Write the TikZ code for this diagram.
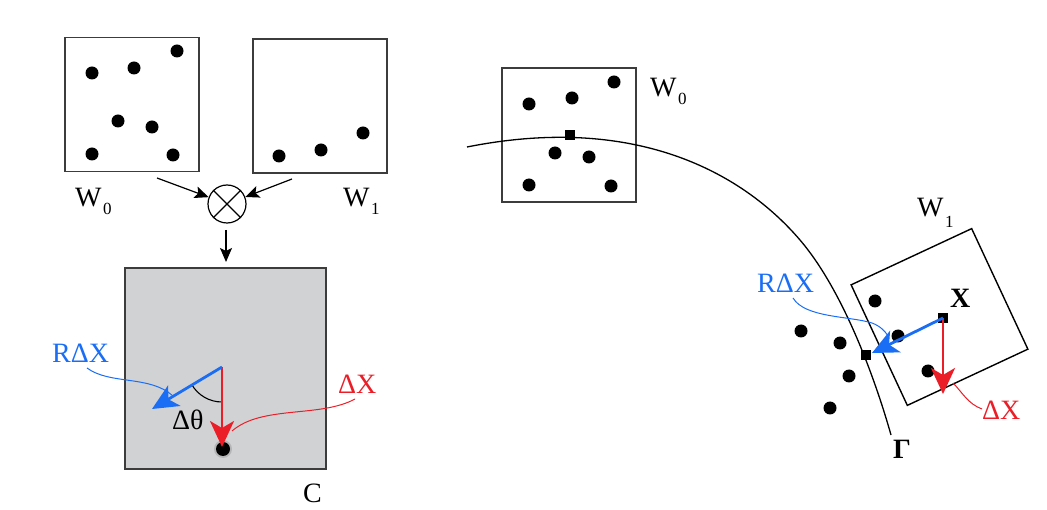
\documentclass[tikz,border=0pt]{standalone}
\usepackage{fontspec}
\setmainfont{Liberation Serif}
\usetikzlibrary{arrows.meta}
\definecolor{myblue}{RGB}{25,110,245}
\definecolor{myred}{RGB}{235,30,40}
\definecolor{cgray}{RGB}{209,210,212}
\definecolor{edge}{RGB}{60,60,60}
\tikzset{
  box/.style={draw=edge, line width=1.6pt, inner sep=0pt, minimum width=134pt, minimum height=134pt},
  lab/.style={font=\fontsize{28}{30}\selectfont, inner sep=0pt, anchor=base west},
  sub/.style={font=\fontsize{17}{18}\selectfont, inner sep=0pt, anchor=base west},
  arr/.style={line width=1.2pt, -{Stealth[length=14pt,width=12pt,inset=3pt]}},
  bigarrow/.style={line width=2.8pt, -{Stealth[length=26pt,width=24pt,inset=7pt]}},
  callout/.style={line width=1pt},
  sq/.style={fill=black, minimum size=10pt, inner sep=0pt},
}
\begin{document}
\begin{tikzpicture}[x=1pt,y=-1pt]
\useasboundingbox (0,0) rectangle (1047,510);
% ---------- left part ----------
\node[box] (LW0) at (132,104.5) {};
\node[box] (LW1) at (320,106) {};
\foreach \p in {(92,73),(134,68),(177,51),(118,121),(152,127),(92,154),(173,155)}
  \fill \p circle (6.5pt);
\foreach \p in {(279,156),(321,150),(363,133)}
  \fill \p circle (6.5pt);
\node[lab] (tW0) at (75,207) {W};
\node[sub] at (103,215) {0};
\node[lab] (tW1) at (343,207) {W};
\node[sub] at (371,215) {1};
% otimes
\node[draw, circle, line width=1.2pt, minimum size=38pt, inner sep=0pt] (ot) at (227,204) {};
\draw[line width=1.2pt] (ot.45) -- (ot.225) (ot.135) -- (ot.315);
\coordinate (s0) at (157,178);
\coordinate (s1) at (292,179);
\draw[arr] (s0) -- (ot);
\draw[arr] (s1) -- (ot);
% C box
\node[box, fill=cgray, minimum width=201pt, minimum height=201pt] (C) at (225.5,368.5) {};
\coordinate (d0) at (226,230);
\coordinate (d1) at (226,262);
\draw[arr] (d0) -- (d1);
\node[lab] (tC) at (303,502) {C};
\coordinate (o) at (222,367);
\coordinate (tipR) at (222,447);
\coordinate (tipB) at (152,409);
\fill[black!40, opacity=0.5] (223,449) circle (9pt);
\fill[black] (223,449) circle (7pt);
\draw[line width=1.1pt] (o) ++(210:35pt) arc[start angle=210, end angle=270, radius=35pt];
\draw[bigarrow, myred] (o) -- (tipR);
\draw[bigarrow, myblue] (o) -- (tipB);
\node[lab] (tdt) at (172,429) {Δθ};
\node[lab, text=myblue] (tRDX) at (52,363) {RΔX};
\node[lab, text=myred] (tDX) at (338,394) {ΔX};
\draw[callout, myblue] (87,368) .. controls (110,385) and (150,375) .. (173,396);
\draw[callout, myred] (355,399) .. controls (320,418) and (262,405) .. (232,431);
% ---------- right part ----------
\node[box, line width=1.4pt] (RW0) at (569,135) {};
\foreach \p in {(529,104),(572,98),(614,82),(555,153),(589,157),(529,185),(611,186)}
  \fill \p circle (6.5pt);
\node[lab] (tRW0) at (650,97) {W};
\node[sub] at (678,105) {0};
\node[box, draw=black, line width=1.4pt, minimum width=133pt, minimum height=133pt, rotate=25] (RW1) at (939.5,317) {};
\foreach \p in {(875,301),(801,331),(840,343),(898,336),(849,376),(928,371),(830,408)}
  \fill \p circle (6.5pt);
\draw[line width=1.3pt] (467,147) .. controls (634,113.7) and (741.5,171.6) .. (800,240)
  .. controls (845.5,293.2) and (877.5,387) .. (891,435);
\node[lab] (tRW1) at (917,217) {W};
\node[sub] at (945,228) {1};
\node[sq] (m0) at (570,135) {};
\node[sq] (mX) at (943,318) {};
\node[sq] (m1) at (866,355) {};
\coordinate (tipB2) at (872,353);
\coordinate (tipR2) at (943,394);
\draw[bigarrow, myred] (mX.center) -- (tipR2);
\draw[bigarrow, myblue] (mX.center) -- (tipB2);
\node[lab, font=\fontsize{28}{30}\selectfont\bfseries] (tX) at (950,308) {X};
\node[lab, font=\fontsize{28}{30}\selectfont\bfseries] (tG) at (893,458) {Γ};
\node[lab, text=myblue] (tRDX2) at (757,293) {RΔX};
\node[lab, text=myred] (tDX2) at (982,420) {ΔX};
\draw[callout, myblue] (793,298) .. controls (805,318) and (850,316) .. (872,323) .. controls (880,326) and (885,331) .. (888,336);
\draw[callout, myred] (982,409) .. controls (968,404) and (962,392) .. (953,383);
\end{tikzpicture}
\end{document}
